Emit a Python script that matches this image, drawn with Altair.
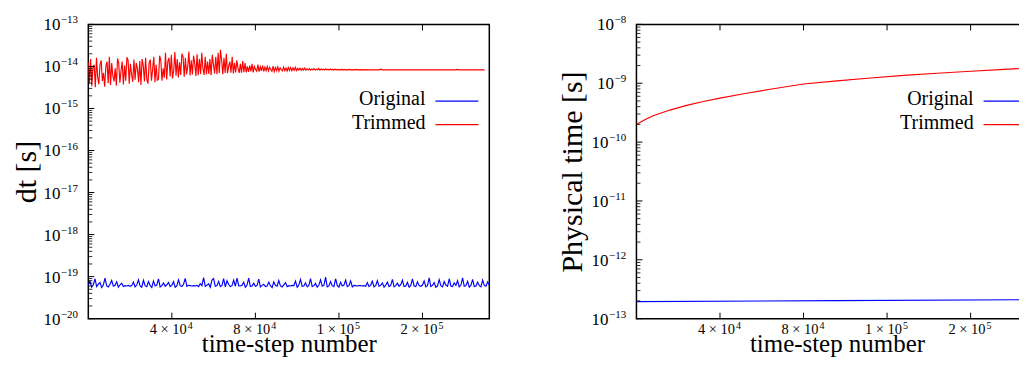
import altair as alt
import pandas as pd

# ---------------- data ----------------
# dt of the "Trimmed" run (units of 1e-15 s), one value every RED_SPACING steps
RED_SPACING = 700
red_dt_noisy = [
    12.5, 4.0, 15, 3.4, 9.5, 11, 3.2, 16, 5.5, 3.8, 11, 14, 4.5, 7, 3.3, 10, 13, 4, 17, 3.6,
    12, 6, 4.4, 9, 3.5, 15.5, 12, 4.1, 8, 13, 3.7, 10.5, 4.6, 16.5, 14, 3.9, 11.5, 6.5, 4.3, 14.5,
    4.8, 12, 9, 4.2, 13.5, 3.6, 15, 10.5, 4.4, 16, 5, 3.9, 12, 14.5, 4.6, 8.5, 17, 4.2, 11, 4.7,
    5, 18, 14, 4.6, 9, 5.4, 21, 4.9, 13, 16, 5.8, 19, 5.2, 8, 22, 6, 15, 5.5, 12.5, 6.3,
    20, 17, 5.7, 16, 6.5, 10, 22.5, 6.1, 14, 6.4, 18, 12, 5.9, 19.5, 6.2, 15, 6.6, 21, 9, 6.3,
    17, 6.5, 13,
    6.6, 15, 6.2, 19, 11, 6.8, 17, 6.5, 21, 7, 25, 14, 6.5, 16, 7, 20, 6.9, 10, 13, 7.1,
    17, 6.8, 12, 7.2, 14, 9, 7, 11.5, 7.1, 13.5, 7.3, 12, 7.2, 10, 7.4,
    10.5, 7.6, 11.5, 7.2, 10, 8.5, 7.7, 11, 7.5, 9.8, 7.8, 10.5, 7.6, 9.6, 7.9, 10, 7.8, 9.5, 8.6, 7.7,
    10.2, 7.6, 9.4, 7.9, 9.8, 7.7, 9.3, 8.4, 7.8, 9.6, 7.9, 9.2, 7.8, 9.5,
    8, 9.4, 7.9, 9.2, 8.1, 9.5, 8, 9, 8.2, 9.1, 8.1, 8.9, 8.2, 9.2, 8.1, 8.8, 8.3, 8.9, 8.2, 8.7,
    8.3, 8.9, 8.2, 8.6, 8.3, 9.0, 8.2, 8.7, 8.3, 8.6, 8.2, 8.8, 8.3, 8.6, 8.2, 8.7, 8.3, 8.5, 8.2, 8.6,
    8.3, 8.5, 8.2,
    8.5, 8.2, 8.6, 8.2, 8.5, 8.2, 8.4, 8.3, 8.5, 8.3, 8.4, 8.3, 8.4, 8.3, 8.5, 8.3, 8.4, 8.3, 8.4, 8.3,
    8.4, 8.3, 8.3, 8.4, 8.3,
]
red_tail_steps = [168000, 174000, 175000, 176000, 220000, 221000, 222000, 237200]
red_tail_dt = [8.3, 8.3, 8.6, 8.3, 8.3, 8.5, 8.3, 8.3]

# dt of the "Original" run (units of 1e-20 s), one value every BLUE_SPACING steps
BLUE_SPACING = 1000
blue_dt = [
    6.2, 7.8, 5.6, 6.4, 8.9, 5.8, 6.6, 7.2, 5.5, 6.3, 9.2, 6.0, 5.7, 6.6, 8.1, 5.9, 6.2, 7.5, 5.6, 6.4,
    7.0, 5.8, 6.1, 6.0, 6.2, 5.9, 6.1, 7.4, 5.7, 6.3, 8.4, 6.0, 5.6, 8.2, 6.1, 5.8, 7.6, 6.2, 5.5, 7.9,
    6.0, 6.3, 8.8, 5.7, 6.1, 7.1, 5.9, 6.4, 7.3, 5.8, 6.2, 7.6, 5.6, 6.0, 8.4, 6.1, 5.8, 6.6, 9.1, 5.9,
    6.2, 6.1, 6.0, 6.1, 6.0, 6.2, 5.8, 6.8, 6.1, 9.5, 5.9, 6.2, 6.8, 5.6, 8.3, 9.0, 5.9, 6.1, 7.7, 5.8,
    6.2, 9.0, 5.7, 8.0, 6.5, 5.8, 6.1, 8.3, 5.9, 9.2, 6.1, 6.0, 6.2, 7.4, 5.6, 6.3, 9.2, 5.8, 6.0, 7.0,
    5.9, 6.1, 8.7, 5.7, 6.2, 6.6, 5.8, 6.0, 7.4, 6.1, 5.5, 7.5, 6.2, 5.9, 8.1, 6.0, 5.7, 6.4, 7.2, 5.8,
    6.1, 6.0, 6.2, 6.1, 7.8, 5.6, 6.3, 8.6, 5.9, 6.0, 7.1, 5.7, 6.2, 9.0, 5.8, 6.1, 6.9, 5.6, 6.3, 8.4,
    5.9, 6.2, 9.7, 5.7, 6.0, 7.6, 6.1, 5.8, 8.9, 6.2, 5.6, 7.3, 6.0, 6.3, 8.3, 5.8, 6.1, 7.9, 5.7, 6.2,
    6.1, 6.0, 6.1, 6.1, 6.0, 6.1, 5.9, 7.2, 5.8, 6.3, 7.8, 5.7, 6.1, 8.0, 5.9, 6.2, 7.1, 5.6, 6.3, 7.4,
    5.8, 6.2, 8.6, 5.7, 6.1, 7.0, 5.9, 6.4, 8.2, 5.8, 6.0, 7.3, 5.6, 6.2, 8.8, 6.0, 5.8, 7.5, 6.1, 5.9,
    6.3, 7.9, 5.7, 6.1, 9.4, 5.8, 6.2, 7.2, 5.6, 6.0, 8.5, 6.1, 5.7, 7.6, 6.3, 5.9, 8.9, 6.0, 5.8, 7.1,
    6.2, 8.0, 5.7, 6.3, 9.3, 5.9, 6.1, 7.7, 5.6, 6.2, 8.6, 5.8, 6.0, 7.4, 6.1, 5.7, 8.3, 6.2, 5.9, 7.5,
    6.3,
]

# physical time (s)
trimmed_time_steps = [0, 5000, 10000, 20000, 30000, 40000, 50000, 65000, 80000, 100000,
                      120000, 140000, 160000, 180000, 200000, 220000, 240000]
trimmed_time = [2.0e-10, 2.4e-10, 2.8e-10, 3.5e-10, 4.2e-10, 4.9e-10, 5.6e-10, 6.7e-10, 7.9e-10,
                9.7e-10, 1.1e-9, 1.23e-9, 1.36e-9, 1.48e-9, 1.6e-9, 1.72e-9, 1.84e-9]
original_time_steps = [0, 120000, 240000]
original_time = [1.95e-13, 2.02e-13, 2.1e-13]

series_names = ["Original", "Trimmed"]
series_colors = ["#0000ff", "#ff0000"]

x_domain = [0, 240000]
x_tick_values = [50000, 100000, 150000, 200000]
x_tick_base = ["4 × 10", "8 × 10", "1 × 10", "2 × 10"]
x_tick_exp = ["4", "4", "5", "5"]

left_exps = [-20, -19, -18, -17, -16, -15, -14, -13]
left_exp_labels = ["−20", "−19", "−18", "−17", "−16", "−15", "−14", "−13"]
right_exps = [-13, -12, -11, -10, -9, -8]
right_exp_labels = ["−13", "−12", "−11", "−10", "−9", "−8"]
y_tick_base = "10"

# ---------------- tables ----------------
rows = []
for i, v in enumerate(blue_dt):
    rows.append({"step": i * BLUE_SPACING, "value": v * 1e-20, "series": series_names[0]})
for i, v in enumerate(red_dt_noisy):
    rows.append({"step": i * RED_SPACING, "value": v * 1e-15, "series": series_names[1]})
for s, v in zip(red_tail_steps, red_tail_dt):
    rows.append({"step": s, "value": v * 1e-15, "series": series_names[1]})
dt_df = pd.DataFrame(rows)

rows = []
for s, v in zip(original_time_steps, original_time):
    rows.append({"step": s, "value": v, "series": series_names[0]})
for s, v in zip(trimmed_time_steps, trimmed_time):
    rows.append({"step": s, "value": v, "series": series_names[1]})
time_df = pd.DataFrame(rows)

FONT = "Liberation Serif"
W, H = 402, 295


def panel(df, exps, exp_labels, ytitle, title_x):
    ydom = [10.0 ** exps[0], 10.0 ** exps[-1]]
    xscale = alt.Scale(domain=x_domain, nice=False, zero=False)
    yscale = alt.Scale(type="log", domain=ydom, nice=False)
    xaxis = alt.Axis(values=x_tick_values, labels=False, tickSize=0,
                     domain=False, grid=False, title="time-step number", titleFontSize=25,
                     titleFontWeight="normal", titleColor="black", titleY=32.5,
                     titleBaseline="alphabetic")
    yaxis = alt.Axis(values=[10.0 ** e for e in exps], labels=False, tickSize=0,
                     domain=False, grid=False, title=ytitle, titleFontSize=30,
                     titleFontWeight="normal", titleColor="black",
                     titleX=title_x, titleY=H / 2, titleBaseline="middle",
                     titleAlign="center")

    def X():
        return alt.X("step:Q", scale=xscale, axis=xaxis)

    def Y():
        return alt.Y("value:Q", scale=yscale, axis=yaxis)

    lines = alt.Chart(df).mark_line(strokeWidth=1.15, clip=True).encode(
        x=X(), y=Y(),
        color=alt.Color("series:N", scale=alt.Scale(domain=series_names, range=series_colors),
                        legend=None),
    )

    # inward ticks
    xt = pd.DataFrame({"step": x_tick_values, "base": x_tick_base, "exp": x_tick_exp})
    bottom_ticks = alt.Chart(xt).mark_rule(color="black", strokeWidth=1).encode(
        x=X(), y=alt.value(H), y2=alt.value(H - 6))
    top_ticks = alt.Chart(xt).mark_rule(color="black", strokeWidth=1).encode(
        x=X(), y=alt.value(0), y2=alt.value(6))

    major = pd.DataFrame({"value": [10.0 ** e for e in exps]})
    minor = pd.DataFrame({"value": [k * 10.0 ** e for e in exps[:-1] for k in range(2, 10)]})
    major_ticks = alt.Chart(major).mark_rule(color="black", strokeWidth=1).encode(
        y=Y(), x=alt.value(0), x2=alt.value(6))
    minor_ticks = alt.Chart(minor).mark_rule(color="black", strokeWidth=0.8).encode(
        y=Y(), x=alt.value(0), x2=alt.value(4))

    # x tick labels "a × 10^b"
    x_base = alt.Chart(xt).mark_text(align="right", baseline="alphabetic", fontSize=14.5,
                                     dx=15, color="black").encode(
        x=X(), y=alt.value(H + 15), text="base:N")
    x_sup = alt.Chart(xt).mark_text(align="left", baseline="alphabetic", fontSize=10,
                                    dx=16, color="black").encode(
        x=X(), y=alt.value(H + 10.5), text="exp:N")

    # y tick labels "10^e"
    y_layers = []
    for nchar, expw in ((3, 17.0), (2, 11.5)):
        sel = [(10.0 ** e, lab) for e, lab in zip(exps, exp_labels) if len(lab) == nchar]
        if not sel:
            continue
        ydf = pd.DataFrame({"value": [s[0] for s in sel], "exp": [s[1] for s in sel],
                            "base": [y_tick_base] * len(sel)})
        xe = -(10.5 + expw)
        y_layers.append(alt.Chart(ydf).mark_text(align="right", baseline="alphabetic",
                                                 fontSize=17, dy=6, color="black").encode(
            y=Y(), x=alt.value(xe - 0.5), text="base:N"))
        y_layers.append(alt.Chart(ydf).mark_text(align="left", baseline="alphabetic",
                                                 fontSize=11, dy=-1, color="black").encode(
            y=Y(), x=alt.value(xe), text="exp:N"))

    legend_layers = []
    for k, (name, col) in enumerate(zip(series_names, series_colors)):
        ty = 75 + 23.5 * k
        ly = 77 + 23.5 * k
        legend_layers.append(
            alt.Chart(pd.DataFrame({"label": [name]})).mark_text(
                align="right", baseline="middle", fontSize=20, font=FONT, color="black"
            ).encode(text="label:N", x=alt.value(338), y=alt.value(ty)))
        legend_layers.append(
            alt.Chart(pd.DataFrame({"label": [name]})).mark_rule(stroke=col, color=col,
                                                                 strokeWidth=1.3).encode(
                x=alt.value(348), x2=alt.value(391), y=alt.value(ly)))

    return alt.layer(lines, bottom_ticks, top_ticks, major_ticks, minor_ticks,
                     x_base, x_sup, *y_layers, *legend_layers).properties(width=W, height=H)


left = panel(dt_df, left_exps, left_exp_labels, "dt [s]", -62.0)
right = panel(time_df, right_exps, right_exp_labels, "Physical time [s]", -64.2)

chart = alt.hconcat(left, right, spacing=66.5).properties(
    padding={"left": 2.5, "top": 5, "right": -20, "bottom": -1}
).configure_view(stroke="black", strokeWidth=1.5).configure_axis(
    labelFont=FONT, titleFont=FONT
).configure_text(font=FONT)

chart.save("out.html", embed_options={"renderer": "svg", "actions": False})
